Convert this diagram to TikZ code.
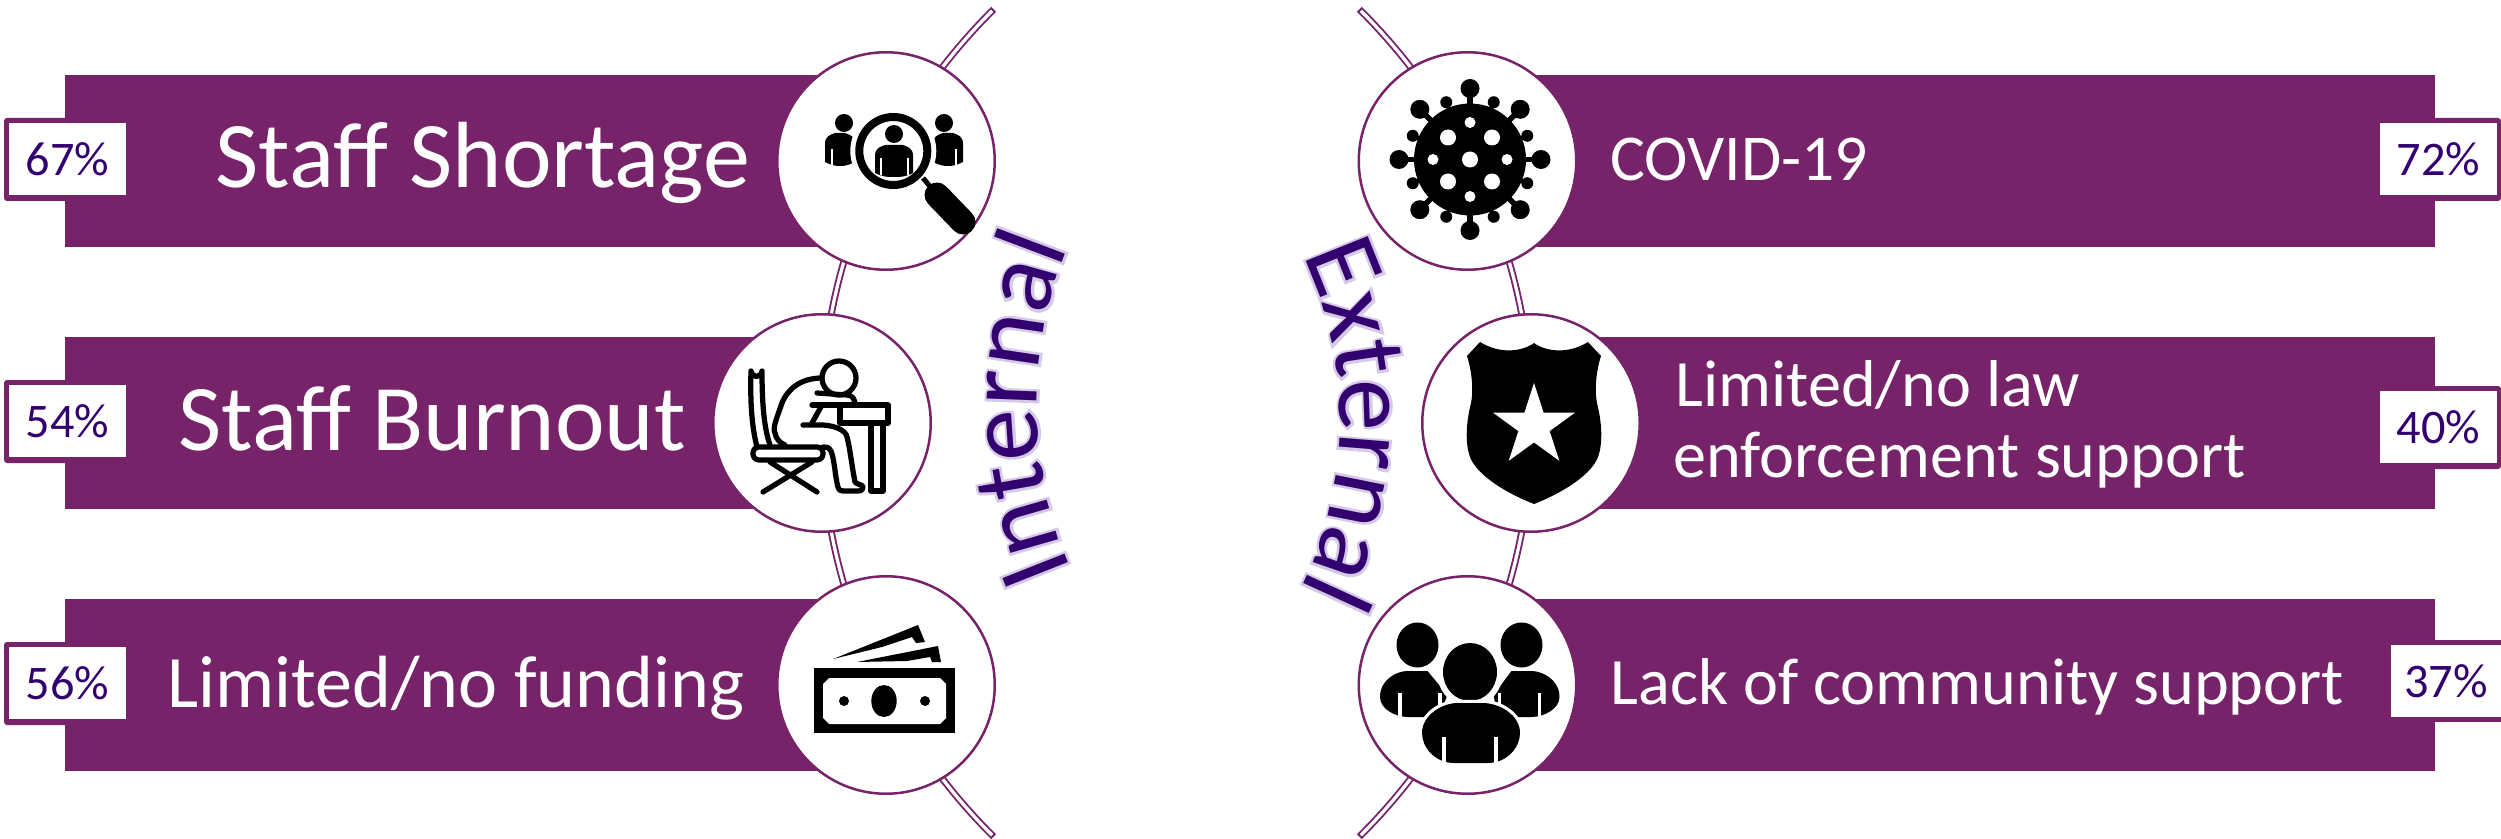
\documentclass[tikz,border=0pt]{standalone}
\usepackage{fontspec}
\setmainfont{Carlito}
\newfontfamily\glowfont[FakeBold=5]{Carlito}
\usetikzlibrary{decorations.text}
\definecolor{barpurple}{HTML}{76236A}
\definecolor{inkpurple}{HTML}{33006F}
\definecolor{glowpurple}{HTML}{D5CAE6}
\newcommand\curvedword[2]{% word, font and colour
  \path[decorate,decoration={text along path,text={|\fontsize{41.6pt}{42pt}#2\selectfont|#1}}]}
\newcommand\lensperson[4]{% cx, top, half width, bottom
  \fill[black] ({#1-#3},{#4-4}) -- ({#1-#3},{#2+11}) .. controls ({#1-#3},{#2+3}) and ({#1-#3+5},{#2+2}) .. ({#1-#3+10},{#2})
   -- ({#1+#3-10},{#2}) .. controls ({#1+#3-5},{#2+2}) and ({#1+#3},{#2+3}) .. ({#1+#3},{#2+11})
   -- ({#1+#3},{#4-4}) .. controls ({#1+#3-8},{#4}) and ({#1+#3-12},{#4}) .. ({#1},{#4})
   .. controls ({#1-#3+12},{#4}) and ({#1-#3+8},{#4}) .. ({#1-#3},{#4-4}) -- cycle;}
\tikzset{
  barfill/.style={fill=barpurple},
  disc/.style={circle,draw=barpurple,line width=1pt,fill=white,minimum size=87pt,inner sep=0pt},
  pctbox/.style={rectangle,fill=white,inner sep=0pt,text=inkpurple,font=\fontsize{19.3pt}{20pt}\selectfont},
  pctedge/.style={fill=barpurple,rounded corners=1.2pt},
  bigtext/.style={anchor=base west,inner sep=0pt,text=white,font=\fontsize{37.6pt}{38pt}\selectfont},
  midtext/.style={anchor=base west,inner sep=0pt,text=white,font=\fontsize{29.6pt}{31pt}\selectfont},
  smalltext/.style={anchor=base west,inner sep=0pt,text=white,font=\fontsize{26.5pt}{28pt}\selectfont},
  arcouter/.style={draw=barpurple,line width=2.8pt},
  arcinner/.style={draw=white,line width=1.3pt},
  icon/.style={line width=2.1pt,line cap=round,line join=round,draw=black}
}
\begin{document}
\begin{tikzpicture}[x=0.4pt,y=0.4pt]
\useasboundingbox (0,0) rectangle (2501,-839);
% arcs behind everything
\coordinate (arcL) at (1403,-423);
\coordinate (arcR) at (950,-423);
\path (arcL) ++(134.7:582) coordinate (arcLtop);
\path (arcL) ++(134.9:582) coordinate (arcLtopin);
\path (arcR) ++(45.3:582) coordinate (arcRtop);
\path (arcR) ++(45.1:582) coordinate (arcRtopin);
\draw[arcouter] (arcLtop) arc[start angle=134.7,end angle=225.3,radius=582];
\draw[arcinner] (arcLtopin) arc[start angle=134.9,end angle=225.1,radius=582];
\draw[arcouter] (arcRtop) arc[start angle=45.3,end angle=-45.3,radius=582];
\draw[arcinner] (arcRtopin) arc[start angle=45.1,end angle=-45.1,radius=582];
% bars
\fill[barfill] (65,-75) rectangle (880,-247);
\fill[barfill] (65,-337) rectangle (820,-509);
\fill[barfill] (65,-599) rectangle (880,-771);
\fill[barfill] (1470,-75) rectangle (2435,-247);
\fill[barfill] (1530,-337) rectangle (2435,-509);
\fill[barfill] (1470,-599) rectangle (2435,-771);
% percent boxes
\fill[pctedge] (4,-118) rectangle (120,-201);
\fill[pctedge] (4,-380) rectangle (120,-463);
\fill[pctedge] (4,-642) rectangle (120,-725);
\fill[pctedge] (2400,-118) rectangle (2501,-201);
\fill[pctedge] (2400,-386) rectangle (2501,-469);
\fill[barpurple] (2400,-640) rectangle (2501,-722);
\node[pctbox,minimum width=46.8pt,minimum height=28.8pt] (p1) at (67.5,-159) {67\%};
\node[pctbox,minimum width=46.8pt,minimum height=28.8pt] (p2) at (67.5,-421) {54\%};
\node[pctbox,minimum width=46.8pt,minimum height=28.8pt] (p3) at (67.5,-683) {56\%};
\node[pctbox,minimum width=46.8pt,minimum height=28.8pt] (p4) at (2438.5,-159) {72\%};
\node[pctbox,minimum width=46.8pt,minimum height=28.8pt] (p5) at (2438.5,-427) {40\%};
\node[pctbox,minimum width=44pt,minimum height=28.8pt] (p6) at (2446,-681) {37\%};
% labels
\node[bigtext] (t1) at (215,-188) {Staff Shortage};
\node[bigtext] (t2) at (178,-450) {Staff Burnout};
\node[midtext] (t3) at (167,-707) {Limited/no funding};
\node[smalltext,font=\fontsize{26.2pt}{28pt}\selectfont] (t4) at (1610,-181) {COVID-19};
\node[smalltext] (t5) at (1675,-406) {Limited/no law};
\node[smalltext] (t6) at (1673,-477) {enforcement support};
\node[smalltext] (t7) at (1610,-704) {Lack of community support};
% discs
\node[disc] (c1) at (886,-161) {};
\node[disc] (c2) at (822,-423) {};
\node[disc] (c3) at (886,-685) {};
\node[disc] (c4) at (1467.5,-161) {};
\node[disc] (c5) at (1531,-423) {};
\node[disc] (c6) at (1467.5,-685) {};
% curved words
\coordinate (wI) at (1453,-405);
\coordinate (wE) at (958,-420);
\path (wI) ++(203.4:416) coordinate (wIs);
\path (wE) ++(25.6:382) coordinate (wEs);
\begin{scope}[shift={(1.5,-1.5)}]
  \curvedword{Internal}{\glowfont\color{glowpurple}} (wIs) arc[start angle=203.4,end angle=135,radius=416];
  \curvedword{External}{\glowfont\color{glowpurple}} (wEs) arc[start angle=25.6,end angle=-50,radius=382];
\end{scope}
\curvedword{Internal}{\color{inkpurple}} (wIs) arc[start angle=203.4,end angle=135,radius=416];
\curvedword{External}{\color{inkpurple}} (wEs) arc[start angle=25.6,end angle=-50,radius=382];
% icon 1: search
\coordinate (ic1) at (890,-161);
\begin{scope}[shift={(ic1)},yscale=-1]
  \fill (-46,-38) circle[radius=9];
  \fill (54,-38) circle[radius=9];
  \lensperson{-50}{-28}{15}{5}
  \lensperson{58}{-28}{15}{5}
  \draw[white,line width=0.7pt] (-58,-12) -- (-58,4);
  \draw[white,line width=0.7pt] (66,-12) -- (66,4);
  \fill[white] (3.3,-10) circle[radius=43];
  \draw[black,line width=3.2pt] (3.3,-10) circle[radius=34];
  \fill (4,-27) circle[radius=9];
  \lensperson{4}{-16}{19}{16}
  \draw[white,line width=0.7pt] (-9,-3) -- (-9,14);
  \draw[white,line width=0.7pt] (18,-3) -- (18,14);
  \draw[black,line width=2pt] (33,17) -- (48,35);
  \draw[black,line width=10pt,line cap=round] (47,34) -- (73,61);
\end{scope}
% icon 2: desk
\begin{scope}[shift={(c2)},yscale=-1,icon]
  \draw (-52,22) .. controls (-58,5) and (-60,-20) .. (-60,-52) arc[start angle=0,end angle=180,radius=5.5]
     .. controls (-72,-20) and (-70,5) .. (-65,24);
  \draw[rounded corners=2.4pt] (-69,24) rectangle (1,37);
  \draw (-52,39) -- (-5,69) (-59,69) -- (-10,39);
  \draw (17,-45) circle[radius=17];
  \draw (0,-45) .. controls (-20,-45) and (-34,-35) .. (-40,-20) .. controls (-44,-8) and (-50,5) .. (-47,10) .. controls (-46,16) and (-42,20) .. (-37,22);
  \draw (-5,-30) -- (25,-28) .. controls (31,-28) and (33,-23) .. (33,-18);
  \draw (-10,-18) -- (66,-18) -- (66,0) -- (18,0) -- (18,-18);
  \draw (49,0) -- (49,68) -- (61,68) -- (61,0);
  \draw (0,-18) -- (-10,0);
  \draw (-19,2) -- (1,2) .. controls (15,3) and (24,8) .. (25,14) .. controls (28,25) and (29,38) .. (33,59) .. controls (35,62) and (42,61) .. (41,65) .. controls (40,68) and (38,68) .. (36,68) -- (21,68) .. controls (16,68) and (16,64) .. (15,60) .. controls (13,50) and (12,35) .. (9,28) .. controls (8,25) and (6,24) .. (1,24);
\end{scope}
% icon 3: money
\begin{scope}[shift={(c3)},yscale=-1]
  \fill (-72,-17) rectangle (69,48);
  \fill[white] (-57,-7) -- (54,-7) -- (60,-1) -- (60,33) -- (54,39) -- (-57,39) -- (-63,33) -- (-63,-1) -- cycle;
  \fill (-2,16) ellipse[x radius=12.7,y radius=16];
  \fill (-42,16) circle[radius=5];
  \fill (39,16) circle[radius=5];
  \fill (-53,-26) -- (32,-60) -- (39,-43) -- (30,-42) -- (26,-48) -- (-4,-38) -- cycle;
  \fill (-29,-23) -- (52,-39) -- (55,-23) -- (46,-23) -- (44,-28) -- (21,-24) -- cycle;
\end{scope}
% icon 4: virus
\begin{scope}[shift={(c4)},yscale=-1,shift={(2.5,-1.5)}]
  \fill (0,0) circle[radius=56];
  \foreach \a in {0,45,...,315}{
    \draw[black,line width=2.2pt] (0,0) -- (\a:68);
    \fill (\a:71) circle[radius=9.5];
  }
  \foreach \a in {22.5,67.5,...,337.5}{
    \draw[black,line width=1.6pt] (0,0) -- (\a:60);
    \fill (\a:62) circle[radius=6];
  }
  \fill[white] (0,0) circle[radius=8];
  \foreach \x/\y in {22/22,-22/22,22/-22,-22/-22}{\fill[white] (\x,\y) circle[radius=8];}
  \foreach \x/\y in {0/37,0/-37,37/0,-37/0}{\fill[white] (\x,\y) circle[radius=5.5];}
\end{scope}
% icon 5: shield
\begin{scope}[shift={(c5)},yscale=-1]
  \fill (3,-80) .. controls (-8,-72) and (-30,-68) .. (-51,-81) -- (-64,-67)
     .. controls (-60,-55) and (-57,-35) .. (-60,-20) .. controls (-65,0) and (-66,20) .. (-61,34)
     .. controls (-55,50) and (-30,68) .. (3,81)
     .. controls (36,68) and (61,50) .. (67,34) .. controls (72,20) and (71,0) .. (66,-20)
     .. controls (63,-35) and (66,-55) .. (70,-67) -- (57,-81) .. controls (36,-68) and (14,-72) .. (3,-80) -- cycle;
  \fill[white] (3,-40) -- (12.6,-10.3) -- (43.9,-10.3) -- (18.6,8.1) -- (28.3,37.8) -- (3,19.4) -- (-22.3,37.8) -- (-12.6,8.1) -- (-37.9,-10.3) -- (-6.6,-10.3) -- cycle;
\end{scope}
% icon 6: group
\begin{scope}[shift={(c6)},yscale=-1]
  \fill (-50,-40) ellipse[x radius=21,y radius=22.5];
  \fill (54,-40) ellipse[x radius=21,y radius=22.5];
  \fill[black] (-87.5,12) .. controls (-87.5,-6) and (-70,-14) .. (-60,-14) -- (-40,-14) -- (-20,10) -- (-24,20) -- (-40,32) -- (-60,32) .. controls (-72,32) and (-87.5,24) .. (-87.5,12) -- cycle;
  \fill[black] (92,12) .. controls (92,-6) and (74,-14) .. (64,-14) -- (44,-14) -- (26,10) -- (28,20) -- (44,32) -- (64,32) .. controls (76,32) and (92,24) .. (92,12) -- cycle;
  \draw[white,line width=1.4pt] (-67.5,8) -- (-67.5,34);
  \draw[white,line width=1.4pt] (72,8) -- (72,34);
  \draw[white,line width=1.4pt] (-27.5,8) -- (-27.5,34);
  \draw[white,line width=1.4pt] (32,8) -- (32,34);
  \fill[white] (2.5,-13) ellipse[x radius=33,y radius=35];
  \fill[black] (2.5,-13) ellipse[x radius=27,y radius=29];
  \fill[white,draw=white,line width=2.6pt] (-45.5,48) .. controls (-45.5,30) and (-25,18) .. (-10,18) -- (15,18) .. controls (32,18) and (52.5,30) .. (52.5,48) .. controls (52.5,62) and (40,78) .. (20,78) -- (-13,78) .. controls (-33,78) and (-45.5,62) .. (-45.5,48) -- cycle;
  \fill[black] (-45.5,48) .. controls (-45.5,30) and (-25,18) .. (-10,18) -- (15,18) .. controls (32,18) and (52.5,30) .. (52.5,48) .. controls (52.5,62) and (40,78) .. (20,78) -- (-13,78) .. controls (-33,78) and (-45.5,62) .. (-45.5,48) -- cycle;
  \draw[white,line width=1.4pt] (-23.5,52) -- (-23.5,80);
  \draw[white,line width=1.4pt] (28.5,52) -- (28.5,80);
\end{scope}
\end{tikzpicture}
\end{document}
